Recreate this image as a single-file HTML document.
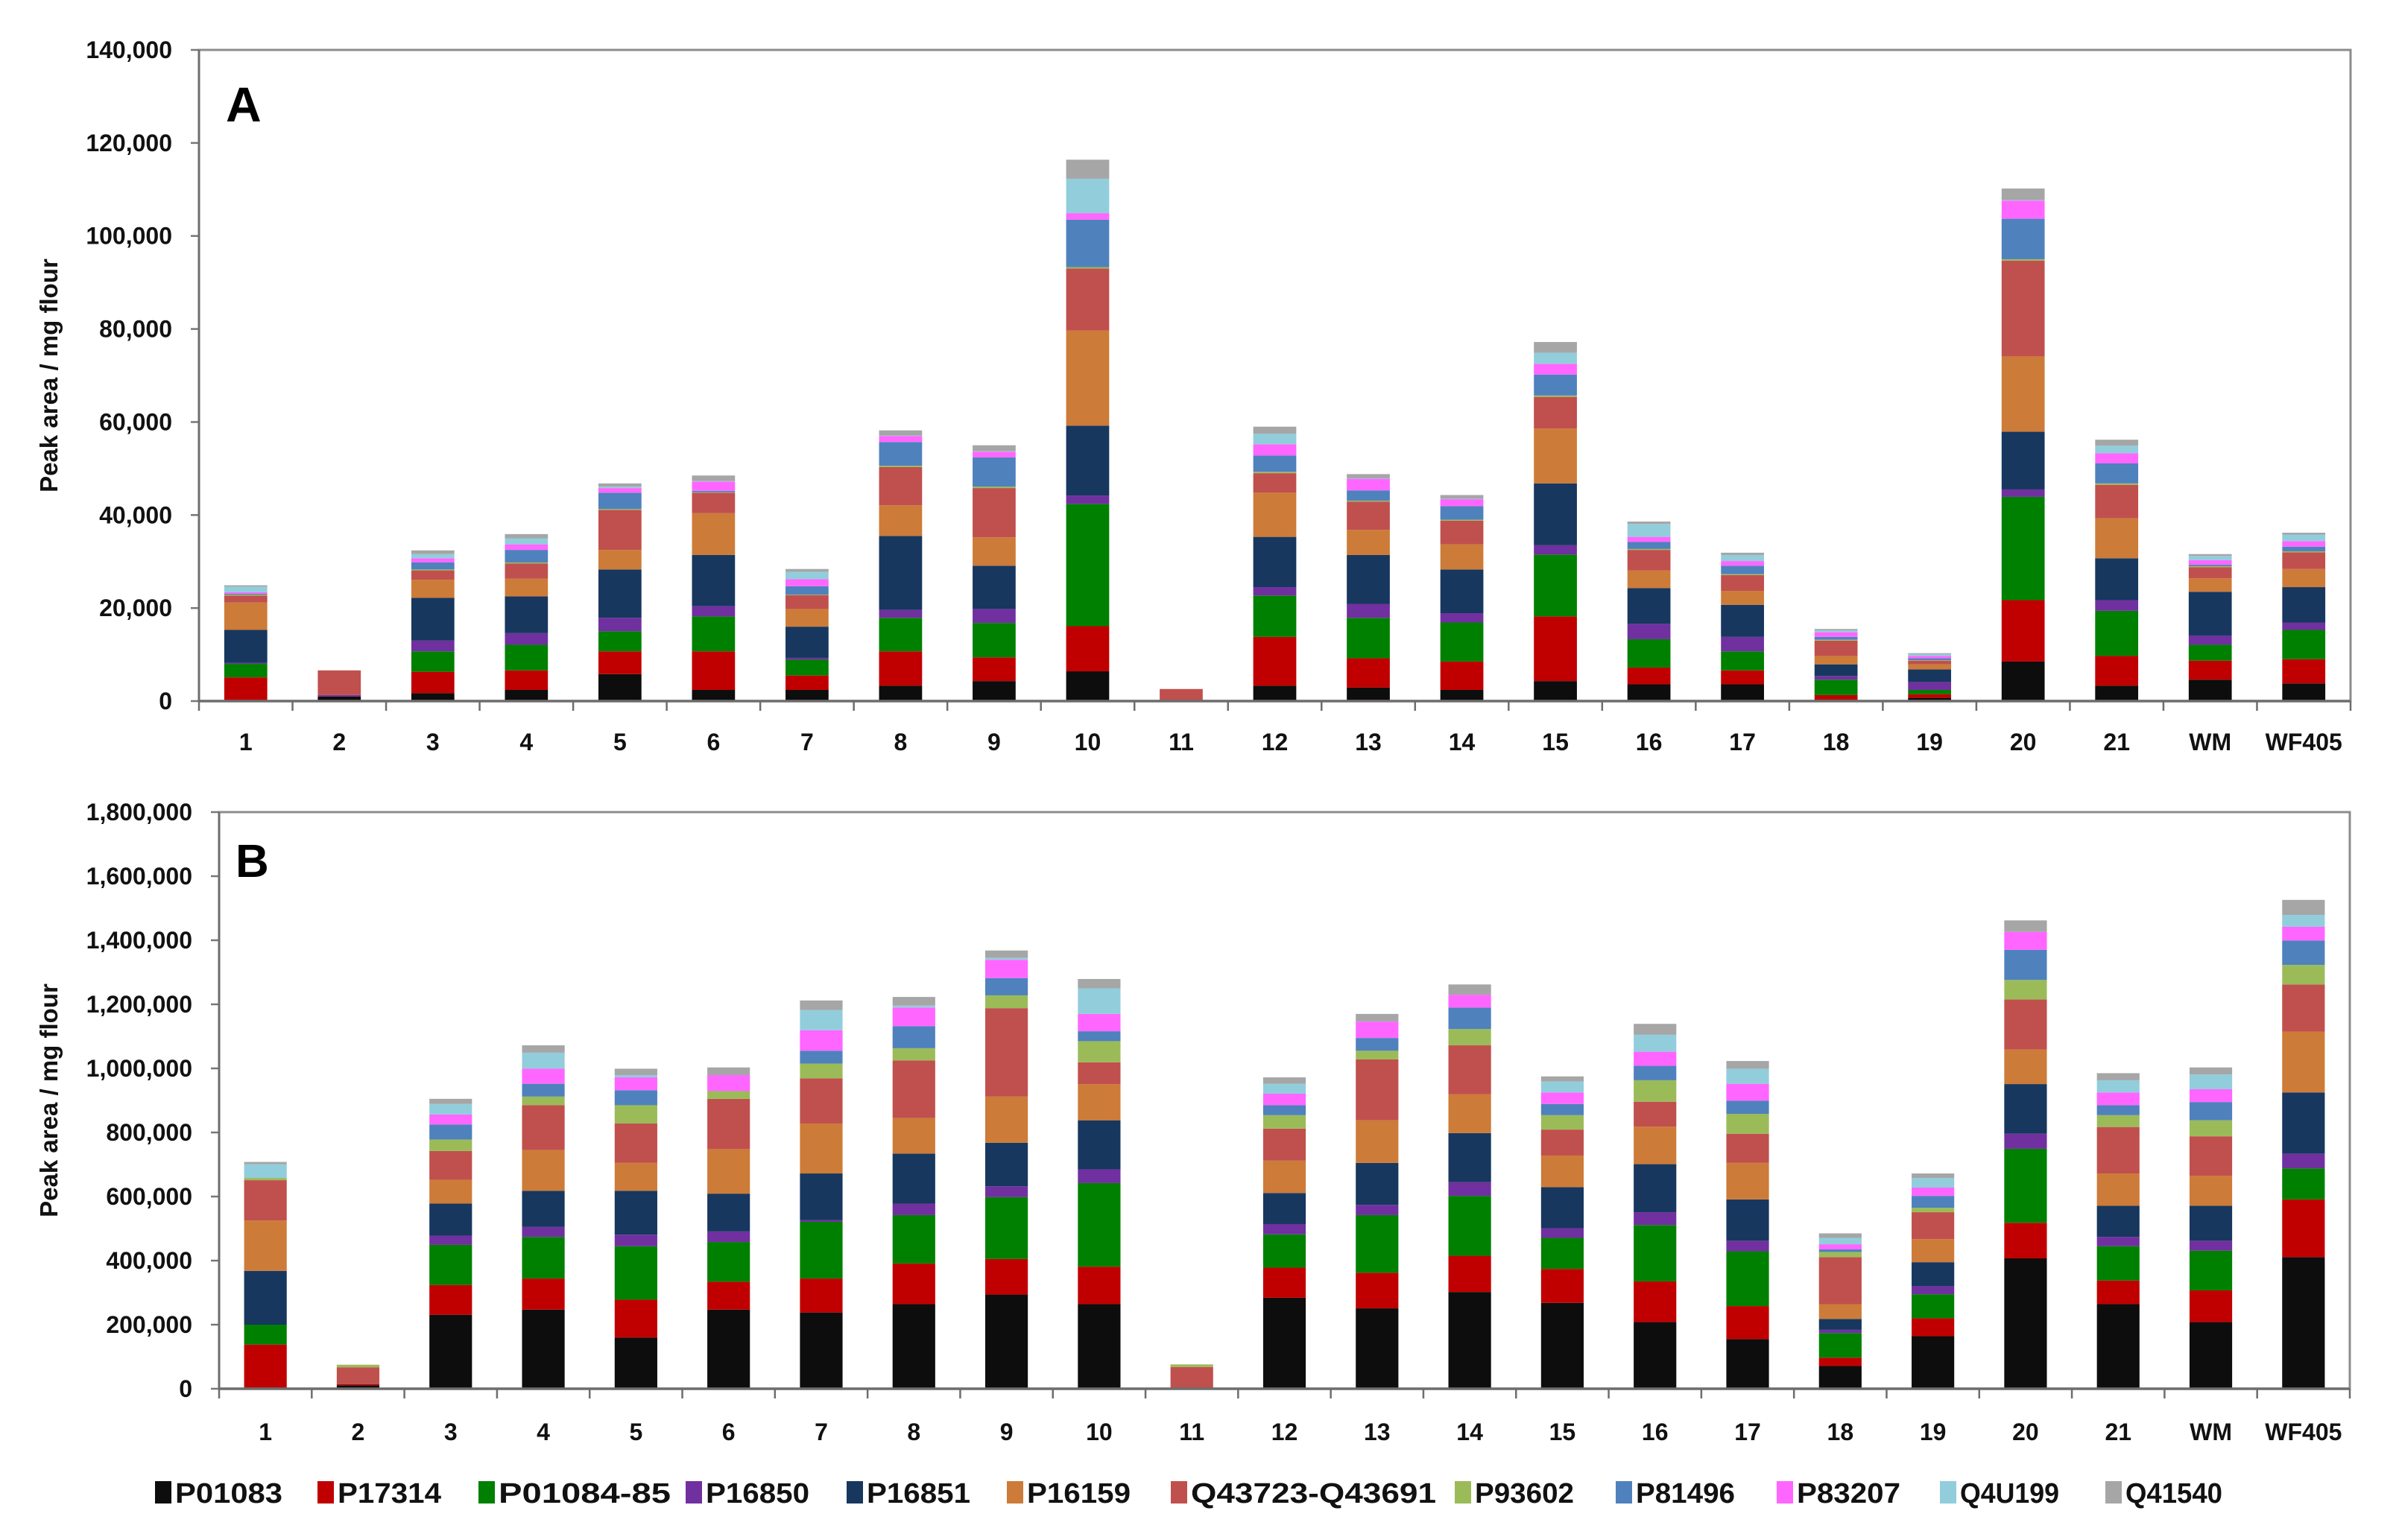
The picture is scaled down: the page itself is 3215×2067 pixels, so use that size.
<!DOCTYPE html>
<html><head><meta charset="utf-8">
<style>
html,body{margin:0;padding:0;background:#fff;}
svg{display:block;font-family:"Liberation Sans",Arial,sans-serif;font-weight:bold;}
</style></head>
<body>
<svg id="chart" width="3215" height="2067" viewBox="0 0 3215 2067" xmlns="http://www.w3.org/2000/svg"></svg>
<script>
// ---------- data ----------
const categories = ["1","2","3","4","5","6","7","8","9","10","11","12","13","14","15","16","17","18","19","20","21","WM","WF405"];
const seriesNames = ["P01083","P17314","P01084-85","P16850","P16851","P16159","Q43723-Q43691","P93602","P81496","P83207","Q4U199","Q41540"];
const seriesColors = ["#0d0d0d","#c00000","#008000","#7030a0","#17375e","#cd7b38","#c0504d","#9bbb59","#4f81bd","#ff66ff","#92cddc","#a6a6a6"];
const ticksA = ["0","20,000","40,000","60,000","80,000","100,000","120,000","140,000"];
const tickValsA = [0,20,40,60,80,100,120,140];
const ticksB = ["0","200,000","400,000","600,000","800,000","1,000,000","1,200,000","1,400,000","1,600,000","1,800,000"];
const tickValsB = [0,200,400,600,800,1000,1200,1400,1600,1800];

// Panel A values (thousands)
const A_P01083 = [0,1.0,1.7,2.4,5.8,2.4,2.4,3.3,4.3,6.4,0,3.3,2.9,2.4,4.3,3.6,3.6,0.3,0.7,8.5,3.3,4.6,3.8];
const A_P17314 = [5.1,0,4.6,4.2,4.9,8.3,3.1,7.4,5.1,9.7,0,10.5,6.3,6.1,13.9,3.6,3.0,1.0,0.8,13.2,6.4,4.1,5.2];
const A_P01084 = [2.9,0,4.4,5.5,4.3,7.5,3.4,7.2,7.4,26.3,0,8.9,8.7,8.4,13.3,6.1,4.1,3.3,0.9,22.2,9.7,3.4,6.3];
const A_P16850 = [0.2,0.3,2.3,2.5,2.9,2.2,0.4,1.7,3.0,1.8,0,1.8,3.0,2.0,2.0,3.3,3.1,0.8,1.7,1.6,2.3,2.0,1.6];
const A_P16851 = [7.1,0,9.2,7.9,10.4,11.0,6.7,15.9,9.3,15.0,0,10.8,10.5,9.4,13.3,7.7,6.9,2.5,2.7,12.4,9.0,9.4,7.6];
const A_P16159 = [5.9,0,3.9,3.8,4.2,9.0,3.8,6.6,6.1,20.5,0,9.5,5.4,5.4,11.8,3.8,3.0,1.8,1.1,16.2,8.6,2.9,3.9];
const A_Q43723 = [1.5,5.3,2.0,3.3,8.6,4.4,3.0,8.2,10.6,13.3,2.6,4.2,6.1,5.1,6.8,4.4,3.4,3.3,0.8,20.6,7.2,2.4,3.6];
const A_P93602 = [0.2,0,0.2,0.2,0.2,0.1,0.1,0.3,0.3,0.3,0,0.3,0.2,0.2,0.3,0.2,0.2,0.2,0.1,0.3,0.3,0.2,0.2];
const A_P81496 = [0.2,0,1.5,2.7,3.5,0.3,1.8,5.1,6.3,10.2,0,3.5,2.2,2.9,4.5,1.5,1.8,0.6,0.4,8.7,4.3,0.3,1.0];
const A_P83207 = [0.3,0,0.9,1.2,1.0,2.0,1.5,1.3,1.2,1.4,0,2.4,2.5,1.5,2.3,1.1,1.0,1.0,0.5,3.9,2.2,1.0,1.2];
const A_Q4U199 = [1.2,0,0.9,1.3,0.3,0.1,1.6,0.1,0.1,7.4,0,2.3,0.1,0.1,2.4,2.8,1.3,0.4,0.4,0.1,1.6,0.9,1.4];
const A_Q41540 = [0.3,0,0.8,0.9,0.7,1.2,0.6,1.1,1.3,4.1,0,1.5,0.9,0.8,2.3,0.5,0.5,0.3,0.2,2.5,1.3,0.4,0.4];

// Panel B values (thousands)
const B_P01083 = [0,11,231,247,160,247,238,264,294,264,0,284,251,302,268,208,155,71,164,407,264,208,411];
const B_P17314 = [138,3,93,97,118,87,106,127,111,117,0,94,111,113,106,127,103,26,56,111,74,99,180];
const B_P01084 = [62,0,125,130,167,124,177,151,193,261,0,104,180,187,97,176,171,77,75,231,107,124,97];
const B_P16850 = [0,0,29,31,36,33,5,36,34,43,0,32,32,43,30,40,33,10,25,47,29,31,46];
const B_P16851 = [168,0,100,113,137,118,146,156,136,153,0,97,131,153,128,150,129,34,75,155,97,109,191];
const B_P16159 = [157,0,74,127,87,139,156,111,144,113,0,101,133,121,99,117,114,46,72,108,101,94,190];
const B_Q43723 = [126,53,90,140,123,157,141,180,276,68,68,100,190,153,81,78,91,147,84,156,145,123,147];
const B_P93602 = [7,8,36,27,57,24,46,38,40,66,8,42,27,51,45,67,62,16,14,61,37,50,61];
const B_P81496 = [0,0,47,40,47,0,40,69,54,31,0,31,40,67,35,45,41,8,37,94,31,57,76];
const B_P83207 = [0,0,31,47,40,50,64,58,57,54,0,36,51,40,36,44,53,16,26,56,40,40,43];
const B_Q4U199 = [43,0,33,50,7,0,63,6,6,80,0,31,0,0,34,53,47,20,30,0,38,46,37];
const B_Q41540 = [7,0,16,23,20,24,30,27,23,29,0,20,24,32,16,34,24,14,14,36,22,22,47];

const seriesA = [A_P01083,A_P17314,A_P01084,A_P16850,A_P16851,A_P16159,A_Q43723,A_P93602,A_P81496,A_P83207,A_Q4U199,A_Q41540];
const seriesB = [B_P01083,B_P17314,B_P01084,B_P16850,B_P16851,B_P16159,B_Q43723,B_P93602,B_P81496,B_P83207,B_Q4U199,B_Q41540];

// ---------- drawing ----------
const NS = "http://www.w3.org/2000/svg";
const svg = document.getElementById("chart");
function mk(tag, attrs, parent){
  const e = document.createElementNS(NS, tag);
  for (const k in attrs) e.setAttribute(k, attrs[k]);
  (parent||svg).appendChild(e);
  return e;
}

function drawPanel(p){
  const g = mk("g", {});
  
  
  const slot = (p.x1 - p.x0) / categories.length;
  const yScale = v => p.yZero - v / p.max * (p.yZero - p.yTop);
  const xCenter = i => p.x0 + slot * (i + 0.5);
  const bw = slot * 0.46;

  const frame = mk("rect", {x:p.x0, y:p.yTop, width:p.x1-p.x0, height:p.yZero-p.yTop, fill:"none", stroke:"#8c8c8c", "stroke-width":3}, g);
  
  

  p.tickVals.forEach((tv, i) => {
    const y = yScale(tv);
    mk("line", {x1:p.x0-11, x2:p.x0, y1:y, y2:y, stroke:"#777", "stroke-width":2.5}, g);
    const t = mk("text", {x:p.x0-36, y:y+11, "text-anchor":"end", "font-size":32, fill:"#111"}, g);
    t.textContent = p.ticks[i];
    
    
  });

  categories.forEach((c, i) => {
    let acc = 0;
    p.series.forEach((arr, s) => {
      const v = arr[i];
      if (v <= 0) return;
      const yT = yScale(acc + v), yB = yScale(acc);
      const r = mk("rect", {x:xCenter(i)-bw/2, y:yT, width:bw, height:Math.max(0, yB-yT), fill:seriesColors[s]}, g);
      
      
      acc += v;
    });
  });

  mk("line", {x1:p.x0, x2:p.x0, y1:p.yTop, y2:p.yZero, stroke:"#6d6d6d", "stroke-width":3}, g);
  mk("line", {x1:p.x0, x2:p.x1, y1:p.yZero, y2:p.yZero, stroke:"#6d6d6d", "stroke-width":3.5}, g);
  for (let i = 0; i <= categories.length; i++){
    const x = p.x0 + slot*i;
    mk("line", {x1:x, x2:x, y1:p.yZero, y2:p.yZero+13, stroke:"#6d6d6d", "stroke-width":2.5}, g);
  }
  categories.forEach((c, i) => {
    const t = mk("text", {x:xCenter(i), y:p.xLabelY, "text-anchor":"middle", "font-size":32, fill:"#111"}, g);
    t.textContent = c;
    
    
  });

  const L = mk("text", {x:p.letterX, y:p.letterY, "font-size":p.letterSize, fill:"#000"}, g);
  L.textContent = p.id;
  
  

  const cy = (p.yTop + p.yZero)/2;
  const yt = mk("text", {x:0, y:0, "text-anchor":"middle", "font-size":33, fill:"#111", transform:`translate(${p.titleX},${cy}) rotate(-90)`}, g);
  yt.textContent = "Peak area / mg flour";
  
  
}

drawPanel({id:"A", x0:267, x1:3154, yTop:67, yZero:941, max:140, ticks:ticksA, tickVals:tickValsA, series:seriesA, xLabelY:1007, letterX:303, letterY:163, letterSize:66, titleX:77});
drawPanel({id:"B", x0:294, x1:3153, yTop:1090, yZero:1864, max:1800, ticks:ticksB, tickVals:tickValsB, series:seriesB, xLabelY:1933, letterX:316, letterY:1177, letterSize:62, titleX:77});

const legX = [208,426,642,920,1136,1351,1571,1952,2168,2384,2603,2825];
const legW = [144,139,231,139,139,139,329,133,133,139,133,130];
const leg = mk("g", {});


seriesNames.forEach((n, s) => {
  const sw = mk("rect", {x:legX[s], y:1988, width:22, height:30, fill:seriesColors[s]}, leg);
  
  
  const t = mk("text", {x:legX[s]+27, y:2017, "font-size":38, fill:"#111", textLength:legW[s], lengthAdjust:"spacingAndGlyphs"}, leg);
  t.textContent = n;
  
  
});
</script>
</body></html>
